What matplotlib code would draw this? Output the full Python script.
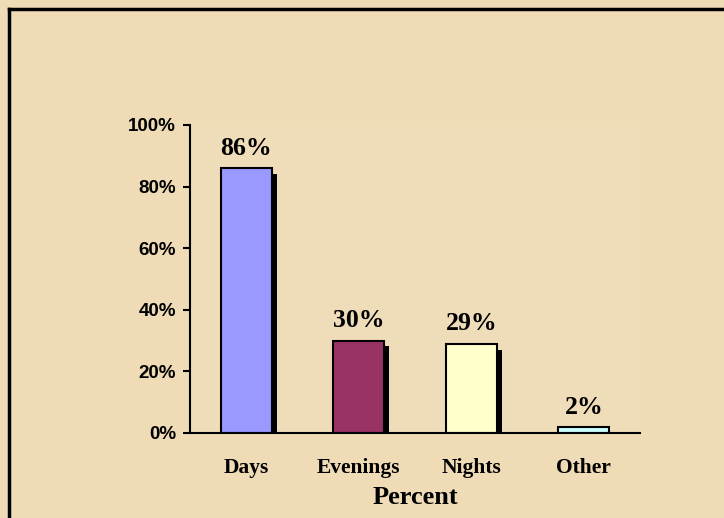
import matplotlib
matplotlib.use("Agg")
import matplotlib.pyplot as plt
from matplotlib.lines import Line2D

categories = ["Days", "Evenings", "Nights", "Other"]
values = [86, 30, 29, 2]
colors = ["#9999FF", "#993366", "#FFFFCC", "#CCFFFF"]
yticks = [0, 20, 40, 60, 80, 100]

bg = "#EFDCB7"

fig = plt.figure(figsize=(7.24, 5.18), dpi=100, facecolor=bg)
ax = fig.add_axes([0.2624, 0.1641, 0.6216, 0.5946])
ax.set_facecolor((1, 1, 1, 0.03))

x = list(range(len(categories)))
width = 0.45

# drop shadows (offset right and down)
shadow_h = [max(v - 1.9, 0) for v in values]
ax.bar([i + 0.045 for i in x], shadow_h, width=width, color="black", zorder=2)
ax.bar(x, values, width=width, color=colors, edgecolor="black",
       linewidth=1.5, zorder=3)

for i, v in zip(x, values):
    ax.annotate(f"{v}%", (i, v), textcoords="offset points", xytext=(0, 6),
                ha="center", va="bottom", fontsize=18.5, fontweight="bold",
                family="Liberation Serif", zorder=4)

ax.set_xlim(-0.5, 3.5)
ax.set_ylim(0, 100)
ax.set_xticks(x)
ax.set_xticklabels(categories, fontsize=15.5, fontweight="bold",
                   family="Liberation Serif")
ax.tick_params(axis="x", length=0, pad=18)
ax.set_yticks(yticks)
ax.set_yticklabels([f"{t}%" for t in yticks], fontsize=13.5,
                   fontweight="bold", family="Liberation Sans")
ax.tick_params(axis="y", length=5, width=1.5, pad=5, direction="out")

ax.set_xlabel("Percent", fontsize=19, fontweight="bold",
              family="Liberation Serif", labelpad=6)

for s in ["top", "right"]:
    ax.spines[s].set_visible(False)
for s in ["left", "bottom"]:
    ax.spines[s].set_linewidth(1.5)
    ax.spines[s].set_zorder(5)

# frame lines on the top and left edges
fig.add_artist(Line2D([9 / 724, 1], [1 - 9 / 518, 1 - 9 / 518],
                      transform=fig.transFigure, color="black", lw=2.5))
fig.add_artist(Line2D([9 / 724, 9 / 724], [0, 1 - 9 / 518],
                      transform=fig.transFigure, color="black", lw=2.5))

fig.savefig("out.png", dpi=100, facecolor=bg)
